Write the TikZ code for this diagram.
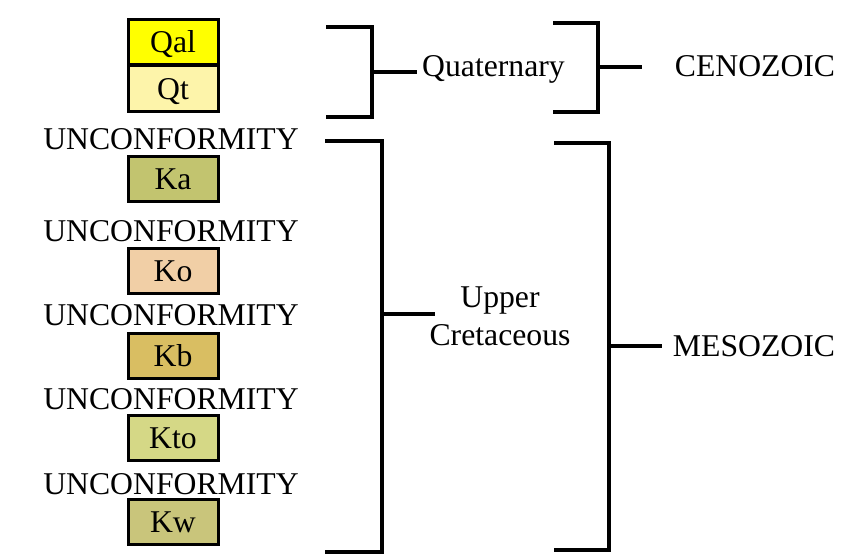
\documentclass[tikz,border=0pt]{standalone}
\usepackage{fontspec}
\setmainfont{Liberation Serif}
\definecolor{cQal}{HTML}{FFFF00}
\definecolor{cQt}{HTML}{FDF4AA}
\definecolor{cKa}{HTML}{C2C46F}
\definecolor{cKo}{HTML}{F1CFA6}
\definecolor{cKb}{HTML}{D9BE62}
\definecolor{cKto}{HTML}{D5D886}
\definecolor{cKw}{HTML}{C9C57B}
\tikzset{
  unit/.style={draw=black, line width=3pt, minimum width=90pt, minimum height=45pt,
    inner sep=0pt, text height=21pt, text depth=0pt, font=\fontsize{31.7}{37}\selectfont},
  lbl/.style={anchor=base, inner sep=0pt, font=\fontsize{31.7}{37}\selectfont},
  brk/.style={line width=3.2pt, line cap=butt, line join=miter}
}
\begin{document}
\begin{tikzpicture}[x=1pt,y=-1pt]
\useasboundingbox (0,0) rectangle (868,556);
% units
\node[unit, fill=cQal] (qal) at (173,42) {Qal};
\node[unit, fill=cQt, minimum height=46pt] (qt) at (173,89) {Qt};
\node[unit, fill=cKa] (ka) at (173,179.5) {Ka};
\node[unit, fill=cKo] (ko) at (173,271) {Ko};
\node[unit, fill=cKb] (kb) at (173,356) {Kb};
\node[unit, fill=cKto] (kto) at (173,437.5) {Kto};
\node[unit, fill=cKw] (kw) at (173,522) {Kw};
% unconformities
\node[lbl] (u1) at (171,150) {UNCONFORMITY};
\node[lbl] (u2) at (171,242) {UNCONFORMITY};
\node[lbl] (u3) at (171,326) {UNCONFORMITY};
\node[lbl] (u4) at (171,409) {UNCONFORMITY};
\node[lbl] (u5) at (171,494) {UNCONFORMITY};
% labels
\node[lbl] (quat) at (493.5,77) {Quaternary};
\node[lbl] (ceno) at (755,77) {CENOZOIC};
\node[lbl] (upper) at (500,308) {Upper};
\node[lbl] (cret) at (500,345) {Cretaceous};
\node[lbl] (meso) at (754,356) {MESOZOIC};
% brackets
\coordinate (b1t) at (326,27);
\coordinate (b1b) at (326,117);
\coordinate (b1m) at (372,72);
\coordinate (b1e) at (417,72);
\draw[brk] (b1t) -- (372,27) -- (372,117) -- (b1b);
\draw[brk] (b1m) -- (b1e);

\coordinate (b2m) at (598,67);
\coordinate (b2e) at (642,67);
\draw[brk] (553,23) -- (598,23) -- (598,112) -- (553,112);
\draw[brk] (b2m) -- (b2e);

\coordinate (b3m) at (382,314);
\coordinate (b3e) at (435,314);
\draw[brk] (325,141) -- (382,141) -- (382,552) -- (325,552);
\draw[brk] (b3m) -- (b3e);

\coordinate (b4m) at (609,346);
\coordinate (b4e) at (662,346);
\draw[brk] (554,143) -- (609,143) -- (609,550) -- (554,550);
\draw[brk] (b4m) -- (b4e);
\end{tikzpicture}
\end{document}
